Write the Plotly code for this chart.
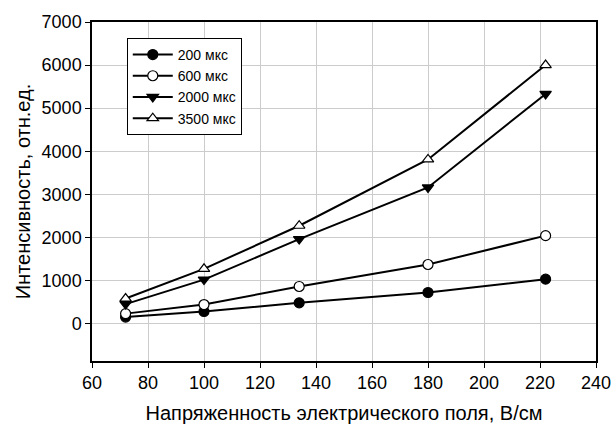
import plotly.graph_objects as go

field = [72, 100, 134, 180, 222]
s200 = [150, 280, 480, 720, 1030]
s600 = [230, 440, 860, 1370, 2040]
s2000 = [450, 1020, 1960, 3160, 5330]
s3500 = [580, 1270, 2270, 3810, 6000]
names = ["200 мкс", "600 мкс", "2000 мкс", "3500 мкс"]

series = [
    (names[0], s200, "circle", "black"),
    (names[1], s600, "circle", "white"),
    (names[2], s2000, "triangle-down", "black"),
    (names[3], s3500, "triangle-up", "white"),
]

fig = go.Figure()
for name, ys, sym, fill in series:
    fig.add_trace(go.Scatter(
        x=field, y=ys, name=name, mode="lines+markers",
        line=dict(color="black", width=2),
        marker=dict(symbol=sym, size=10, color=fill,
                    line=dict(color="black", width=1.2)),
    ))

font = "Liberation Sans, Arial, sans-serif"
fig.update_layout(
    width=613, height=425,
    margin=dict(l=92, r=17, t=17, b=64),
    paper_bgcolor="white", plot_bgcolor="white",
    font=dict(family=font, size=18, color="black"),
    showlegend=True,
    legend=dict(x=0.069, y=0.953, xanchor="left", yanchor="top",
                bordercolor="black", borderwidth=1, bgcolor="white",
                font=dict(size=14), tracegroupgap=0, itemwidth=40),
    xaxis=dict(range=[60, 240], tickvals=list(range(60, 241, 20)),
               showgrid=True, gridcolor="#cccccc", gridwidth=1,
               showline=True, linecolor="black", linewidth=1.5, mirror=True,
               ticks="outside", ticklen=5, tickcolor="black",
               title=dict(text="Напряженность электрического поля, В/см",
                          font=dict(size=20), standoff=14),
               zeroline=False, automargin=False),
    yaxis=dict(range=[-870, 7000], tickvals=list(range(0, 7001, 1000)),
               showgrid=True, gridcolor="#cccccc", gridwidth=1,
               showline=True, linecolor="black", linewidth=1.5, mirror=True,
               ticks="outside", ticklen=5, tickcolor="black",
               title=dict(text="Интенсивность, отн.ед.",
                          font=dict(size=20), standoff=6),
               zeroline=False),
)

fig.write_html("out.html")
